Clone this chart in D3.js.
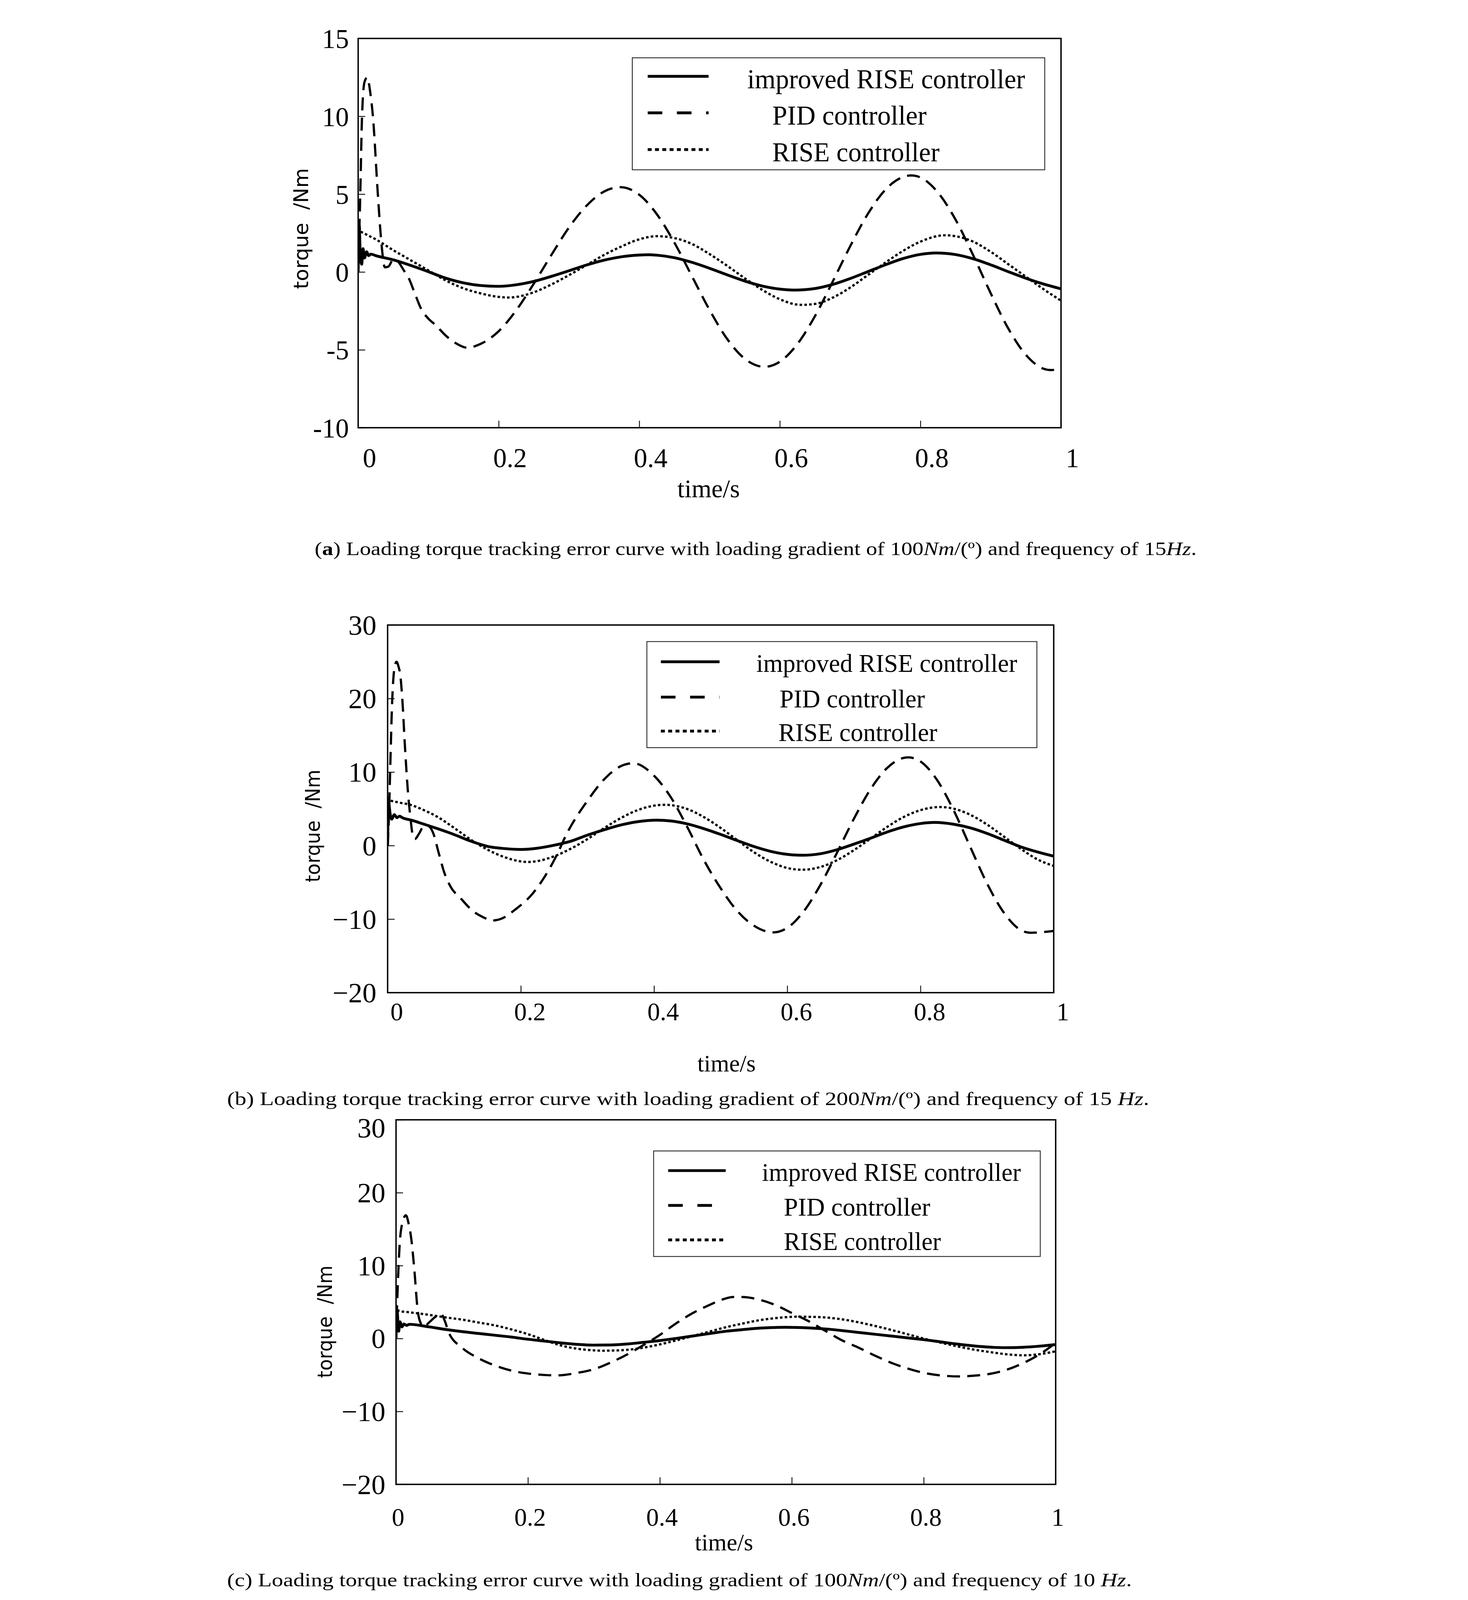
<!DOCTYPE html>
<html>
<head>
<meta charset="utf-8">
<script src="https://cdn.jsdelivr.net/npm/d3@7"></script>
<style>
  html, body { margin: 0; padding: 0; background: #fff; overflow: hidden; }
  svg { display: block; width: 100vw; height: 100vh; }
</style>
</head>
<body>
<svg id="fig"></svg>
<script>
// ---- data: [time (s), torque error (Nm)] ----
const xTicks = [0, 0.2, 0.4, 0.6, 0.8, 1]
const yTicksA = [-10, -5, 0, 5, 10, 15]
const yTicksBC = [-20, -10, 0, 10, 20, 30]
const seriesNames = ['improved RISE controller', 'PID controller', 'RISE controller']

const aImproved = [[0,0],[0.0015,3.0],[0.003,1.2],[0.005,0.5],[0.007,1.5],[0.009,0.9],[0.012,1.3],[0.015,1.05],[0.018,1.15],[0.025,1.05],[0.05,0.78],[0.075,0.42],[0.1,0.02],[0.125,-0.4],[0.15,-0.7],[0.175,-0.87],[0.2,-0.92],[0.225,-0.82],[0.25,-0.6],[0.275,-0.28],[0.3,0.08],[0.325,0.45],[0.35,0.76],[0.375,0.98],[0.4,1.09],[0.413,1.11],[0.425,1.08],[0.45,0.92],[0.475,0.62],[0.5,0.24],[0.525,-0.18],[0.55,-0.58],[0.575,-0.9],[0.6,-1.1],[0.62,-1.16],[0.65,-1.06],[0.675,-0.8],[0.7,-0.42],[0.725,0.02],[0.75,0.46],[0.775,0.86],[0.8,1.13],[0.822,1.22],[0.85,1.12],[0.875,0.85],[0.9,0.46],[0.925,0.02],[0.95,-0.4],[0.975,-0.77],[1,-1.08]]
const aPID = [[0,0],[0.003,5],[0.0055,10],[0.009,12.2],[0.013,12.5],[0.017,11.6],[0.021,10],[0.028,5],[0.033,1.9],[0.038,0.3],[0.043,0.35],[0.05,0.8],[0.056,0.7],[0.065,0.1],[0.072,-0.4],[0.08,-1.3],[0.09,-2.4],[0.1,-3.0],[0.11,-3.4],[0.125,-4.1],[0.14,-4.6],[0.155,-4.86],[0.175,-4.6],[0.2,-3.8],[0.225,-2.45],[0.25,-0.74],[0.275,1.1],[0.3,2.86],[0.325,4.26],[0.35,5.17],[0.373,5.45],[0.4,4.96],[0.425,3.71],[0.45,1.88],[0.475,-0.28],[0.5,-2.44],[0.525,-4.3],[0.55,-5.57],[0.578,-6.09],[0.6,-5.76],[0.625,-4.62],[0.65,-2.83],[0.675,-0.63],[0.7,1.65],[0.725,3.72],[0.75,5.28],[0.775,6.1],[0.787,6.2],[0.8,6.07],[0.825,5.1],[0.85,3.36],[0.875,1.08],[0.9,-1.37],[0.925,-3.63],[0.95,-5.32],[0.975,-6.21],[0.986,-6.3],[1,-6.1]]
const aRISE = [[0,2.9],[0.001,3.2],[0.003,2.65],[0.01,2.45],[0.025,2.1],[0.05,1.4],[0.075,0.75],[0.1,0.1],[0.125,-0.55],[0.15,-1.05],[0.175,-1.38],[0.2,-1.6],[0.215,-1.64],[0.225,-1.6],[0.25,-1.3],[0.275,-0.8],[0.3,-0.2],[0.325,0.45],[0.35,1.1],[0.375,1.65],[0.4,2.1],[0.425,2.3],[0.45,2.18],[0.475,1.8],[0.5,1.15],[0.525,0.4],[0.55,-0.4],[0.575,-1.15],[0.6,-1.75],[0.63,-2.11],[0.65,-2.05],[0.675,-1.65],[0.7,-1.0],[0.725,-0.2],[0.75,0.6],[0.775,1.35],[0.8,1.95],[0.835,2.36],[0.85,2.3],[0.875,1.95],[0.9,1.3],[0.925,0.5],[0.95,-0.3],[0.975,-1.1],[1,-1.84]]

const bImproved = [[0,0],[0.0015,5.8],[0.004,4.2],[0.006,3.6],[0.01,4.2],[0.014,3.8],[0.018,4.0],[0.022,3.8],[0.036,3.45],[0.05,3.05],[0.075,2.3],[0.1,1.5],[0.125,0.6],[0.15,-0.1],[0.175,-0.4],[0.2,-0.52],[0.225,-0.35],[0.25,0.05],[0.275,0.6],[0.3,1.43],[0.325,2.15],[0.35,2.8],[0.375,3.25],[0.404,3.46],[0.425,3.35],[0.45,2.95],[0.475,2.3],[0.5,1.52],[0.525,0.68],[0.55,-0.13],[0.575,-0.78],[0.6,-1.19],[0.622,-1.31],[0.65,-1.1],[0.675,-0.55],[0.7,0.2],[0.725,1.0],[0.75,1.85],[0.775,2.55],[0.8,3.0],[0.821,3.15],[0.85,2.9],[0.875,2.4],[0.9,1.65],[0.925,0.75],[0.95,-0.15],[0.975,-0.85],[1,-1.44]]
const bPID = [[0,0],[0.002,4],[0.0037,9.85],[0.007,20],[0.01,24],[0.0133,25],[0.0165,24.3],[0.0187,23.4],[0.022,20],[0.026,13.5],[0.0305,7.3],[0.034,4.0],[0.038,1.3],[0.041,0.9],[0.047,1.6],[0.053,2.5],[0.06,2.7],[0.068,1.8],[0.077,-1.1],[0.085,-3.65],[0.094,-5.5],[0.111,-7.3],[0.128,-8.9],[0.146,-9.85],[0.155,-10.2],[0.169,-10.0],[0.193,-8.6],[0.217,-6.6],[0.236,-4.2],[0.253,-1.46],[0.27,1.8],[0.3,6.1],[0.325,9.0],[0.35,10.8],[0.369,11.2],[0.4,9.5],[0.425,6.6],[0.45,2.5],[0.475,-2.0],[0.5,-5.8],[0.525,-8.9],[0.55,-10.9],[0.579,-11.8],[0.6,-11.18],[0.625,-8.9],[0.65,-5.3],[0.675,-0.9],[0.7,3.65],[0.725,7.67],[0.75,10.57],[0.775,11.93],[0.782,12.0],[0.8,11.44],[0.825,8.9],[0.85,4.76],[0.875,-0.24],[0.9,-5.17],[0.925,-9.1],[0.95,-11.46],[0.965,-11.85],[1,-11.6]]
const bRISE = [[0,6.6],[0.003,6.2],[0.015,5.9],[0.036,5.5],[0.05,5.0],[0.075,3.9],[0.1,2.4],[0.125,0.8],[0.15,-0.55],[0.175,-1.55],[0.2,-2.15],[0.21,-2.23],[0.225,-2.1],[0.25,-1.45],[0.275,-0.42],[0.3,0.89],[0.325,2.37],[0.35,3.74],[0.375,4.81],[0.4,5.43],[0.416,5.55],[0.45,4.97],[0.475,3.87],[0.5,2.4],[0.525,0.74],[0.55,-0.9],[0.575,-2.2],[0.6,-3.04],[0.622,-3.28],[0.65,-2.9],[0.675,-1.97],[0.7,-0.62],[0.725,0.95],[0.75,2.54],[0.775,3.9],[0.8,4.82],[0.829,5.25],[0.85,5.02],[0.875,4.18],[0.9,2.86],[0.925,1.24],[0.95,-0.4],[0.975,-1.85],[1,-2.76]]

const cImproved = [[0,0],[0.0015,3.9],[0.004,1.0],[0.006,2.3],[0.009,1.6],[0.012,2.0],[0.016,1.8],[0.02,1.95],[0.05,1.6],[0.075,1.25],[0.1,0.95],[0.125,0.7],[0.15,0.45],[0.175,0.2],[0.2,-0.1],[0.225,-0.35],[0.25,-0.6],[0.275,-0.8],[0.3,-0.9],[0.325,-0.88],[0.35,-0.75],[0.375,-0.52],[0.4,-0.28],[0.425,0.02],[0.45,0.35],[0.475,0.68],[0.5,1.0],[0.525,1.22],[0.55,1.42],[0.575,1.52],[0.59,1.54],[0.6,1.53],[0.625,1.46],[0.65,1.32],[0.675,1.1],[0.7,0.85],[0.725,0.6],[0.75,0.35],[0.775,0.1],[0.8,-0.15],[0.825,-0.45],[0.85,-0.75],[0.875,-1.0],[0.9,-1.18],[0.925,-1.25],[0.95,-1.2],[0.975,-1.05],[1,-0.83]]
const cPID = [[0,0],[0.0016,4.6],[0.0055,12.9],[0.01,16.0],[0.015,16.9],[0.019,15.8],[0.023,13.75],[0.0276,9.6],[0.033,3.75],[0.0386,1.9],[0.042,1.6],[0.05,2.2],[0.06,3.0],[0.068,3.4],[0.074,2.4],[0.08,0.8],[0.1,-1.25],[0.125,-2.7],[0.15,-3.7],[0.175,-4.4],[0.2,-4.8],[0.225,-5.0],[0.245,-5.05],[0.275,-4.7],[0.3,-4.2],[0.325,-3.3],[0.35,-2.2],[0.375,-0.9],[0.4,0.5],[0.425,2.1],[0.45,3.5],[0.475,4.6],[0.5,5.5],[0.51,5.7],[0.525,5.7],[0.55,5.35],[0.575,4.6],[0.6,3.5],[0.625,2.4],[0.65,1.1],[0.675,-0.2],[0.7,-1.2],[0.725,-2.3],[0.75,-3.3],[0.775,-4.1],[0.8,-4.7],[0.825,-5.05],[0.856,-5.2],[0.875,-5.1],[0.9,-4.85],[0.925,-4.3],[0.95,-3.4],[0.975,-2.2],[1,-0.6]]
const cRISE = [[0,4.6],[0.004,3.8],[0.02,3.6],[0.05,3.25],[0.075,2.9],[0.1,2.6],[0.125,2.2],[0.15,1.8],[0.175,1.25],[0.2,0.6],[0.225,-0.2],[0.25,-0.95],[0.275,-1.4],[0.3,-1.62],[0.313,-1.67],[0.325,-1.65],[0.35,-1.55],[0.375,-1.25],[0.4,-0.8],[0.425,-0.25],[0.45,0.35],[0.475,0.95],[0.5,1.55],[0.525,2.05],[0.55,2.5],[0.575,2.8],[0.612,3.0],[0.625,2.98],[0.65,2.9],[0.675,2.65],[0.7,2.25],[0.725,1.75],[0.75,1.2],[0.775,0.6],[0.8,0.0],[0.825,-0.55],[0.85,-1.05],[0.875,-1.5],[0.9,-1.85],[0.925,-2.15],[0.95,-2.3],[0.975,-2.15],[1,-1.75]]

const captionA = [['(', ''], ['a', 'b'], [') Loading torque tracking error curve with loading gradient of 100', ''], ['Nm', 'i'], ['/(º) and frequency of 15', ''], ['Hz', 'i'], ['.', '']]
const captionB = [['(b) Loading torque tracking error curve with loading gradient of 200', ''], ['Nm', 'i'], ['/(º) and frequency of 15 ', ''], ['Hz', 'i'], ['.', '']]
const captionC = [['(c) Loading torque tracking error curve with loading gradient of 100', ''], ['Nm', 'i'], ['/(º) and frequency of 10 ', ''], ['Hz', 'i'], ['.', '']]

// ---- layout, in the 3759 x 5701 coordinates of the original figure ----
// the viewBox scales it down to whatever window it is shown in
const W = 3759, H = 5701
const serif = '"Liberation Serif", "Times New Roman", serif'
const sans = '"DejaVu Sans", sans-serif'
const lineStyles = [
  { width: 10, dash: null },
  { width: 8, dash: '46,26' },
  { width: 8, dash: '9,8' }
]
const legendStyles = [
  { width: 10, dash: null },
  { width: 10, dash: '52,52' },
  { width: 10, dash: '14,12' }
]

const panels = [
  {
    id: 'a', series: [aImproved, aPID, aRISE], yDomain: [-10, 15], yTicks: yTicksA,
    fmt: d => String(d),
    box: { l: 540, r: 3045, t: 137, b: 1524 },
    tickFont: 96, yPad: 33, topDy: 0, xLabelDx: 40, xLabelY: 1665,
    yTitle: { x: 362, y: 1030, len: 431 }, xTitle: { x: 1789, y: 1772, size: 91 },
    legend: { l: 1517, r: 2987, t: 206, b: 605, rows: [272, 402, 533], sx: [1572, 1789],
      tx: [1927, 2016, 2016], tl: [990, 550, 596], size: 96, base: 42 },
    caption: captionA, cap: { x: 385, y: 1978, len: 3143 }
  },
  {
    id: 'b', series: [bImproved, bPID, bRISE], yDomain: [-20, 30], yTicks: yTicksBC,
    fmt: d3.format(''),
    box: { l: 645, r: 3019, t: 2227, b: 3537 },
    tickFont: 100, xTickFont: 90, yPad: 40, topDy: 0, xLabelDx: 32, xLabelY: 3636,
    yTitle: { x: 404, y: 3144, len: 402 }, xTitle: { x: 1853, y: 3818, size: 85 },
    legend: { l: 1569, r: 2959, t: 2286, b: 2664, rows: [2358, 2484, 2605], sx: [1619, 1828],
      tx: [1959, 2042, 2038], tl: [930, 518, 566], size: 90, base: 36 },
    caption: captionB, cap: { x: 73, y: 3937, len: 3286 }
  },
  {
    id: 'c', series: [cImproved, cPID, cRISE], yDomain: [-20, 30], yTicks: yTicksBC,
    fmt: d3.format(''),
    box: { l: 675, r: 3026, t: 3990, b: 5289 },
    tickFont: 100, xTickFont: 90, yPad: 38, topDy: 28, xLabelDx: 7, xLabelY: 5436,
    yTitle: { x: 446, y: 4910, len: 401 }, xTitle: { x: 1844, y: 5524, size: 85 },
    legend: { l: 1593, r: 2971, t: 4101, b: 4477, rows: [4171, 4295, 4418], sx: [1645, 1850],
      tx: [1979, 2057, 2057], tl: [923, 522, 560], size: 90, base: 36 },
    caption: captionC, cap: { x: 73, y: 5652, len: 3224 }
  }
]

const svg = d3.select('#fig')
  .attr('viewBox', `0 0 ${W} ${H}`)
  .attr('preserveAspectRatio', 'xMidYMid meet')
svg.append('rect').attr('width', W).attr('height', H).attr('fill', '#fff')

panels.forEach(drawPanel)

function drawPanel(p) {
  const x = d3.scaleLinear().domain([0, 1]).range([p.box.l, p.box.r])
  const y = d3.scaleLinear().domain(p.yDomain).range([p.box.b, p.box.t])
  const g = svg.append('g').attr('class', 'panel-' + p.id)

  // clip the curves to the frame
  svg.append('clipPath').attr('id', 'clip-' + p.id)
    .append('rect')
    .attr('x', p.box.l).attr('y', p.box.t)
    .attr('width', p.box.r - p.box.l).attr('height', p.box.b - p.box.t)

  const line = d3.line()
    .x(d => x(d[0]))
    .y(d => y(d[1]))
    .curve(d3.curveMonotoneX)

  g.append('g')
    .attr('clip-path', `url(#clip-${p.id})`)
    .selectAll('path')
    .data(p.series)
    .join('path')
    .attr('d', line)
    .attr('fill', 'none')
    .attr('stroke', '#000')
    .attr('stroke-linejoin', 'round')
    .attr('stroke-width', (d, i) => lineStyles[i].width)
    .attr('stroke-dasharray', (d, i) => lineStyles[i].dash)

  // frame
  g.append('rect')
    .attr('x', p.box.l).attr('y', p.box.t)
    .attr('width', p.box.r - p.box.l).attr('height', p.box.b - p.box.t)
    .attr('fill', 'none').attr('stroke', '#000').attr('stroke-width', 5)

  // axes, ticks pointing inwards
  const xAxis = g.append('g')
    .attr('transform', `translate(0,${p.box.b})`)
    .call(d3.axisBottom(x).tickValues(xTicks).tickSize(-25).tickFormat(d3.format('')))
  xAxis.select('.domain').remove()
  xAxis.selectAll('line').attr('stroke-width', 3)
  xAxis.selectAll('text')
    .attr('y', p.xLabelY - p.box.b).attr('dy', null).attr('dx', p.xLabelDx)
    .attr('font-family', serif).attr('font-size', p.xTickFont || p.tickFont).attr('fill', '#000')

  const top = d3.max(p.yTicks)
  const yAxis = g.append('g')
    .attr('transform', `translate(${p.box.l},0)`)
    .call(d3.axisLeft(y).tickValues(p.yTicks).tickSize(-25).tickPadding(p.yPad).tickFormat(p.fmt))
  yAxis.select('.domain').remove()
  yAxis.selectAll('line').attr('stroke-width', 3)
  yAxis.selectAll('text')
    .attr('dy', d => d === top ? p.topDy + 34 : 34)
    .attr('font-family', serif).attr('font-size', p.tickFont).attr('fill', '#000')

  // y title: starts at its lower end, reads upwards, stretched to the measured length
  const yt = g.append('text')
    .attr('font-family', sans).attr('font-size', 72)
    .text('torque \u00a0/Nm')
  const natural = yt.node().getComputedTextLength() || p.yTitle.len
  yt.attr('transform',
    `translate(${p.yTitle.x},${p.yTitle.y}) rotate(-90) scale(${p.yTitle.len / natural},1)`)

  g.append('text')
    .attr('x', p.xTitle.x).attr('y', p.xTitle.y)
    .attr('text-anchor', 'middle')
    .attr('font-family', serif).attr('font-size', p.xTitle.size)
    .text('time/s')

  // legend
  const L = p.legend
  const lg = g.append('g')
  lg.append('rect')
    .attr('x', L.l).attr('y', L.t).attr('width', L.r - L.l).attr('height', L.b - L.t)
    .attr('fill', '#fff').attr('stroke', '#222').attr('stroke-width', 3)
  const rows = lg.selectAll('g.row')
    .data(seriesNames)
    .join('g').attr('class', 'row')
  rows.append('line')
    .attr('x1', L.sx[0]).attr('x2', L.sx[1])
    .attr('y1', (d, i) => L.rows[i]).attr('y2', (d, i) => L.rows[i])
    .attr('stroke', '#000')
    .attr('stroke-width', (d, i) => legendStyles[i].width)
    .attr('stroke-dasharray', (d, i) => legendStyles[i].dash)
  rows.append('text')
    .attr('x', (d, i) => L.tx[i]).attr('y', (d, i) => L.rows[i] + L.base)
    .attr('font-family', serif).attr('font-size', L.size)
    .attr('textLength', (d, i) => L.tl[i]).attr('lengthAdjust', 'spacingAndGlyphs')
    .text(d => d)

  // caption
  const cap = svg.append('text')
    .attr('x', p.cap.x).attr('y', p.cap.y)
    .attr('font-family', serif).attr('font-size', 68)
    .attr('textLength', p.cap.len).attr('lengthAdjust', 'spacingAndGlyphs')
    .style('white-space', 'pre')
  cap.selectAll('tspan')
    .data(p.caption)
    .join('tspan')
    .attr('font-weight', d => d[1] === 'b' ? 'bold' : null)
    .attr('font-style', d => d[1] === 'i' ? 'italic' : null)
    .text(d => d[0])
}
</script>
</body>
</html>
